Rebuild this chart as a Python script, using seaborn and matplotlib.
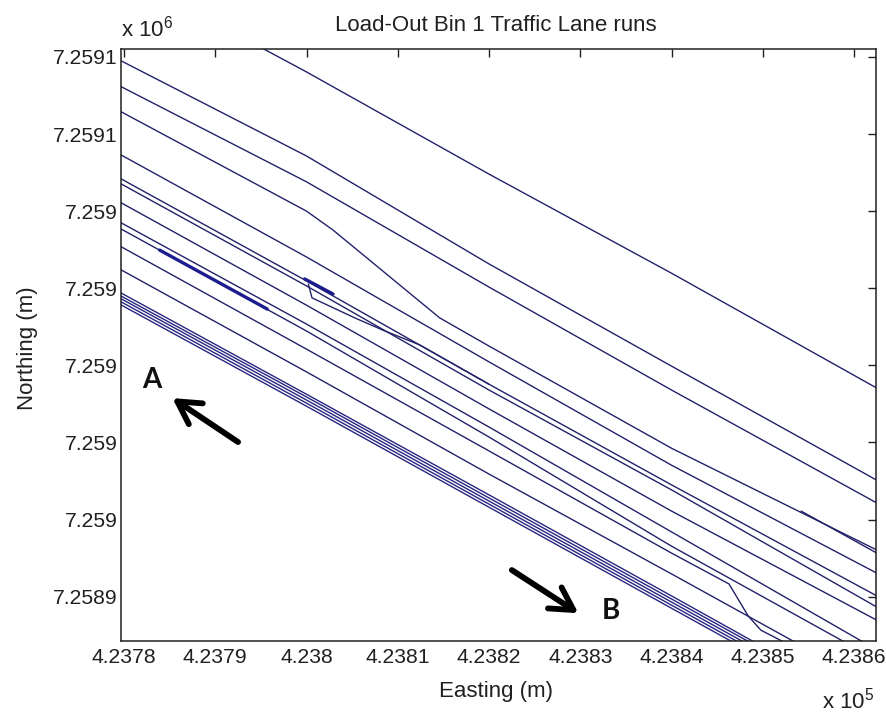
import matplotlib
matplotlib.use("Agg")
import matplotlib.pyplot as plt
import numpy as np
import pandas as pd
import seaborn as sns

# ---------------- text ----------------
title = "Load-Out Bin 1 Traffic Lane runs"
x_label = "Easting (m)"
y_label = "Northing (m)"

# ---------------- ticks (metres) ----------------
x_ticks = [423780, 423790, 423800, 423810, 423820, 423830, 423840, 423850, 423860]
x_tick_labels = ["4.2378", "4.2379", "4.238", "4.2381", "4.2382", "4.2383", "4.2384", "4.2385", "4.2386"]
y_ticks = [7258940, 7258960, 7258980, 7259000, 7259020, 7259040, 7259060, 7259080]
y_tick_labels = ["7.2589", "7.259", "7.259", "7.259", "7.259", "7.259", "7.2591", "7.2591"]
x_limits = (423779.67, 423862.41)
y_limits = (7258928.5, 7259082.05)

# ---------------- traffic-lane runs (Easting, Northing in metres) ----------------
stations = [423779.5, 423800.0, 423820.0, 423840.0, 423862.5]

run01_e = [423793.3, 423800.0, 423820.0, 423840.0, 423862.5]
run01_n = [7259084.6, 7259076.1, 7259049.6, 7259023.9, 7258994.1]

run02_e = stations
run02_n = [7259079.2, 7259054.3, 7259026.3, 7258999.8, 7258970.2]

run03_e = stations
run03_n = [7259072.5, 7259047.6, 7259020.3, 7258993.6, 7258964.3]

run04_e = [423779.5, 423800.0, 423802.9, 423814.6, 423820.0, 423840.0, 423862.5]
run04_n = [7259066.0, 7259040.0, 7259035.1, 7259012.3, 7259005.0, 7258978.5, 7258952.1]

run05_e = stations
run05_n = [7259054.8, 7259028.1, 7259000.9, 7258974.1, 7258946.1]

run06_e = stations
run06_n = [7259048.6, 7259021.9, 7258995.1, 7258969.0, 7258940.2]

run07_e = stations
run07_n = [7259047.3, 7259020.6, 7258993.6, 7258967.7, 7258937.3]

run08_e = stations
run08_n = [7259042.4, 7259015.6, 7258988.7, 7258962.2, 7258933.9]

run09_e = stations
run09_n = [7259037.2, 7259010.7, 7258984.0, 7258956.8, 7258926.2]

run10_e = stations
run10_n = [7259035.6, 7259008.9, 7258981.4, 7258953.1, 7258923.6]

run11_e = [423779.5, 423800.0, 423820.0, 423840.0, 423846.3, 423848.4, 423849.8, 423853.0]
run11_n = [7259031.0, 7259004.2, 7258977.8, 7258951.3, 7258943.3, 7258935.0, 7258931.3, 7258927.4]

run12_e = [423779.5, 423800.0, 423820.0, 423840.0, 423856.3]
run12_n = [7259025.0, 7258998.3, 7258971.8, 7258945.9, 7258924.6]

run13_e = [423799.8, 423802.9]
run13_n = [7259022.4, 7259018.5]

run14_e = [423800.2, 423800.6, 423805.3, 423808.3, 423812.4, 423820.0]
run14_n = [7259021.1, 7259017.5, 7259012.3, 7259009.2, 7259005.3, 7258995.1]

run15_e = [423854.2, 423862.5]
run15_n = [7258962.2, 7258951.3]

bundle_e = [423779.5, 423800.0, 423820.0, 423840.0, 423849.7]
bundle1_n = [7259019.0, 7258992.5, 7258966.4, 7258940.2, 7258927.4]
bundle2_n = [7259018.2, 7258991.8, 7258965.6, 7258939.4, 7258926.7]
bundle3_n = [7259017.5, 7258991.0, 7258964.8, 7258938.6, 7258925.9]
bundle4_n = [7259016.7, 7258990.2, 7258964.0, 7258937.8, 7258925.1]
bundle5_n = [7259015.9, 7258989.4, 7258963.2, 7258937.0, 7258924.3]

thick1_e = [423783.9, 423795.7]
thick1_n = [7259029.9, 7259014.6]
thick2_e = [423799.8, 423802.9]
thick2_n = [7259022.4, 7259018.5]

# annotation anchors (data coordinates)
label_a = "A"
label_b = "B"
a_text = (423783.0, 7258996.2)
a_tail = (423792.5, 7258980.1)
a_tip = (423785.3, 7258991.5)
b_text = (423833.4, 7258936.3)
b_tail = (423822.5, 7258946.9)
b_tip = (423829.8, 7258935.7)

# ---------------- build tables ----------------
def frame(pairs):
    rows = []
    for name, (es, ns) in pairs.items():
        for i, (e, n) in enumerate(zip(es, ns)):
            rows.append({"run": name, "order": i, "E": e, "N": n})
    return pd.DataFrame(rows)

runs = frame({
    "r01": (run01_e, run01_n), "r02": (run02_e, run02_n), "r03": (run03_e, run03_n),
    "r04": (run04_e, run04_n), "r05": (run05_e, run05_n), "r06": (run06_e, run06_n),
    "r07": (run07_e, run07_n), "r08": (run08_e, run08_n), "r09": (run09_e, run09_n),
    "r10": (run10_e, run10_n), "r11": (run11_e, run11_n), "r12": (run12_e, run12_n),
    "r13": (run13_e, run13_n), "r14": (run14_e, run14_n), "r15": (run15_e, run15_n),
})
bundle = frame({
    "b1": (bundle_e, bundle1_n), "b2": (bundle_e, bundle2_n), "b3": (bundle_e, bundle3_n),
    "b4": (bundle_e, bundle4_n), "b5": (bundle_e, bundle5_n),
})
thick = frame({"t1": (thick1_e, thick1_n), "t2": (thick2_e, thick2_n)})

# ---------------- style ----------------
sns.set_theme(style="white")
plt.rcParams["font.family"] = ["Liberation Sans", "DejaVu Sans"]
plt.rcParams["axes.edgecolor"] = "#202020"
plt.rcParams["axes.linewidth"] = 1.1

FS = 16
TFS = 15.2
fig = plt.figure(figsize=(8.86, 7.13), dpi=100)
ax = fig.add_axes([121 / 886, 1 - 641 / 713, 755 / 886, 592 / 713])

line_col = "#22226a"
sns.lineplot(data=runs, x="E", y="N", units="run", estimator=None, sort=False,
             color=line_col, linewidth=1.0, ax=ax)
sns.lineplot(data=bundle, x="E", y="N", units="run", estimator=None, sort=False,
             color="#262680", linewidth=1.0, ax=ax)
sns.lineplot(data=thick, x="E", y="N", units="run", estimator=None, sort=False,
             color="#1c1c8e", linewidth=2.4, ax=ax)

ax.set_xlim(*x_limits)
ax.set_ylim(*y_limits)
ax.set_xticks(x_ticks, labels=x_tick_labels)
ax.set_yticks(y_ticks, labels=y_tick_labels)
ax.tick_params(direction="in", length=5.8, width=1.0, top=True, right=True,
               labelsize=TFS, colors="#202020")
ax.tick_params(axis="x", pad=5)
ax.tick_params(axis="y", pad=2.5)
ax.set_xlabel("")
ax.set_ylabel("")
ax.grid(False)
for s in ax.spines.values():
    s.set_visible(True)
    s.set_color("#202020")

# labels & title
fig.text(496 / 886, 1 - 691 / 713, x_label, ha="center", va="center", fontsize=FS, color="#202020")
fig.text(28 / 886, 1 - 348 / 713, y_label, ha="center", va="center", rotation=90,
         fontsize=FS, color="#202020")
fig.text(496 / 886, 1 - 31 / 713, title, ha="center", va="baseline", fontsize=FS, color="#202020")
fig.text(121 / 886, 1 - 37 / 713, r"x 10$^{\mathregular{6}}$", ha="left", va="baseline",
         fontsize=FS, color="#202020")
fig.text(822 / 886, 1 - 709 / 713, r"x 10$^{\mathregular{5}}$", ha="left", va="baseline",
         fontsize=FS, color="#202020")

# arrows and A/B markers
arrow_kw = dict(arrowstyle="->,head_length=0.8,head_width=0.45", lw=4.2, color="black",
                shrinkA=0, shrinkB=0, mutation_scale=20, capstyle="round")
ax.annotate("", xy=a_tip, xytext=a_tail, arrowprops=arrow_kw)
ax.annotate("", xy=b_tip, xytext=b_tail, arrowprops=arrow_kw)
ax.text(*a_text, label_a, ha="center", va="center", fontsize=20, fontweight="bold",
        family=["Lato", "DejaVu Sans"], color="#111111")
ax.text(*b_text, label_b, ha="center", va="center", fontsize=20, fontweight="bold",
        family=["Lato", "DejaVu Sans"], color="#111111")

fig.savefig("out.png", dpi=100)
